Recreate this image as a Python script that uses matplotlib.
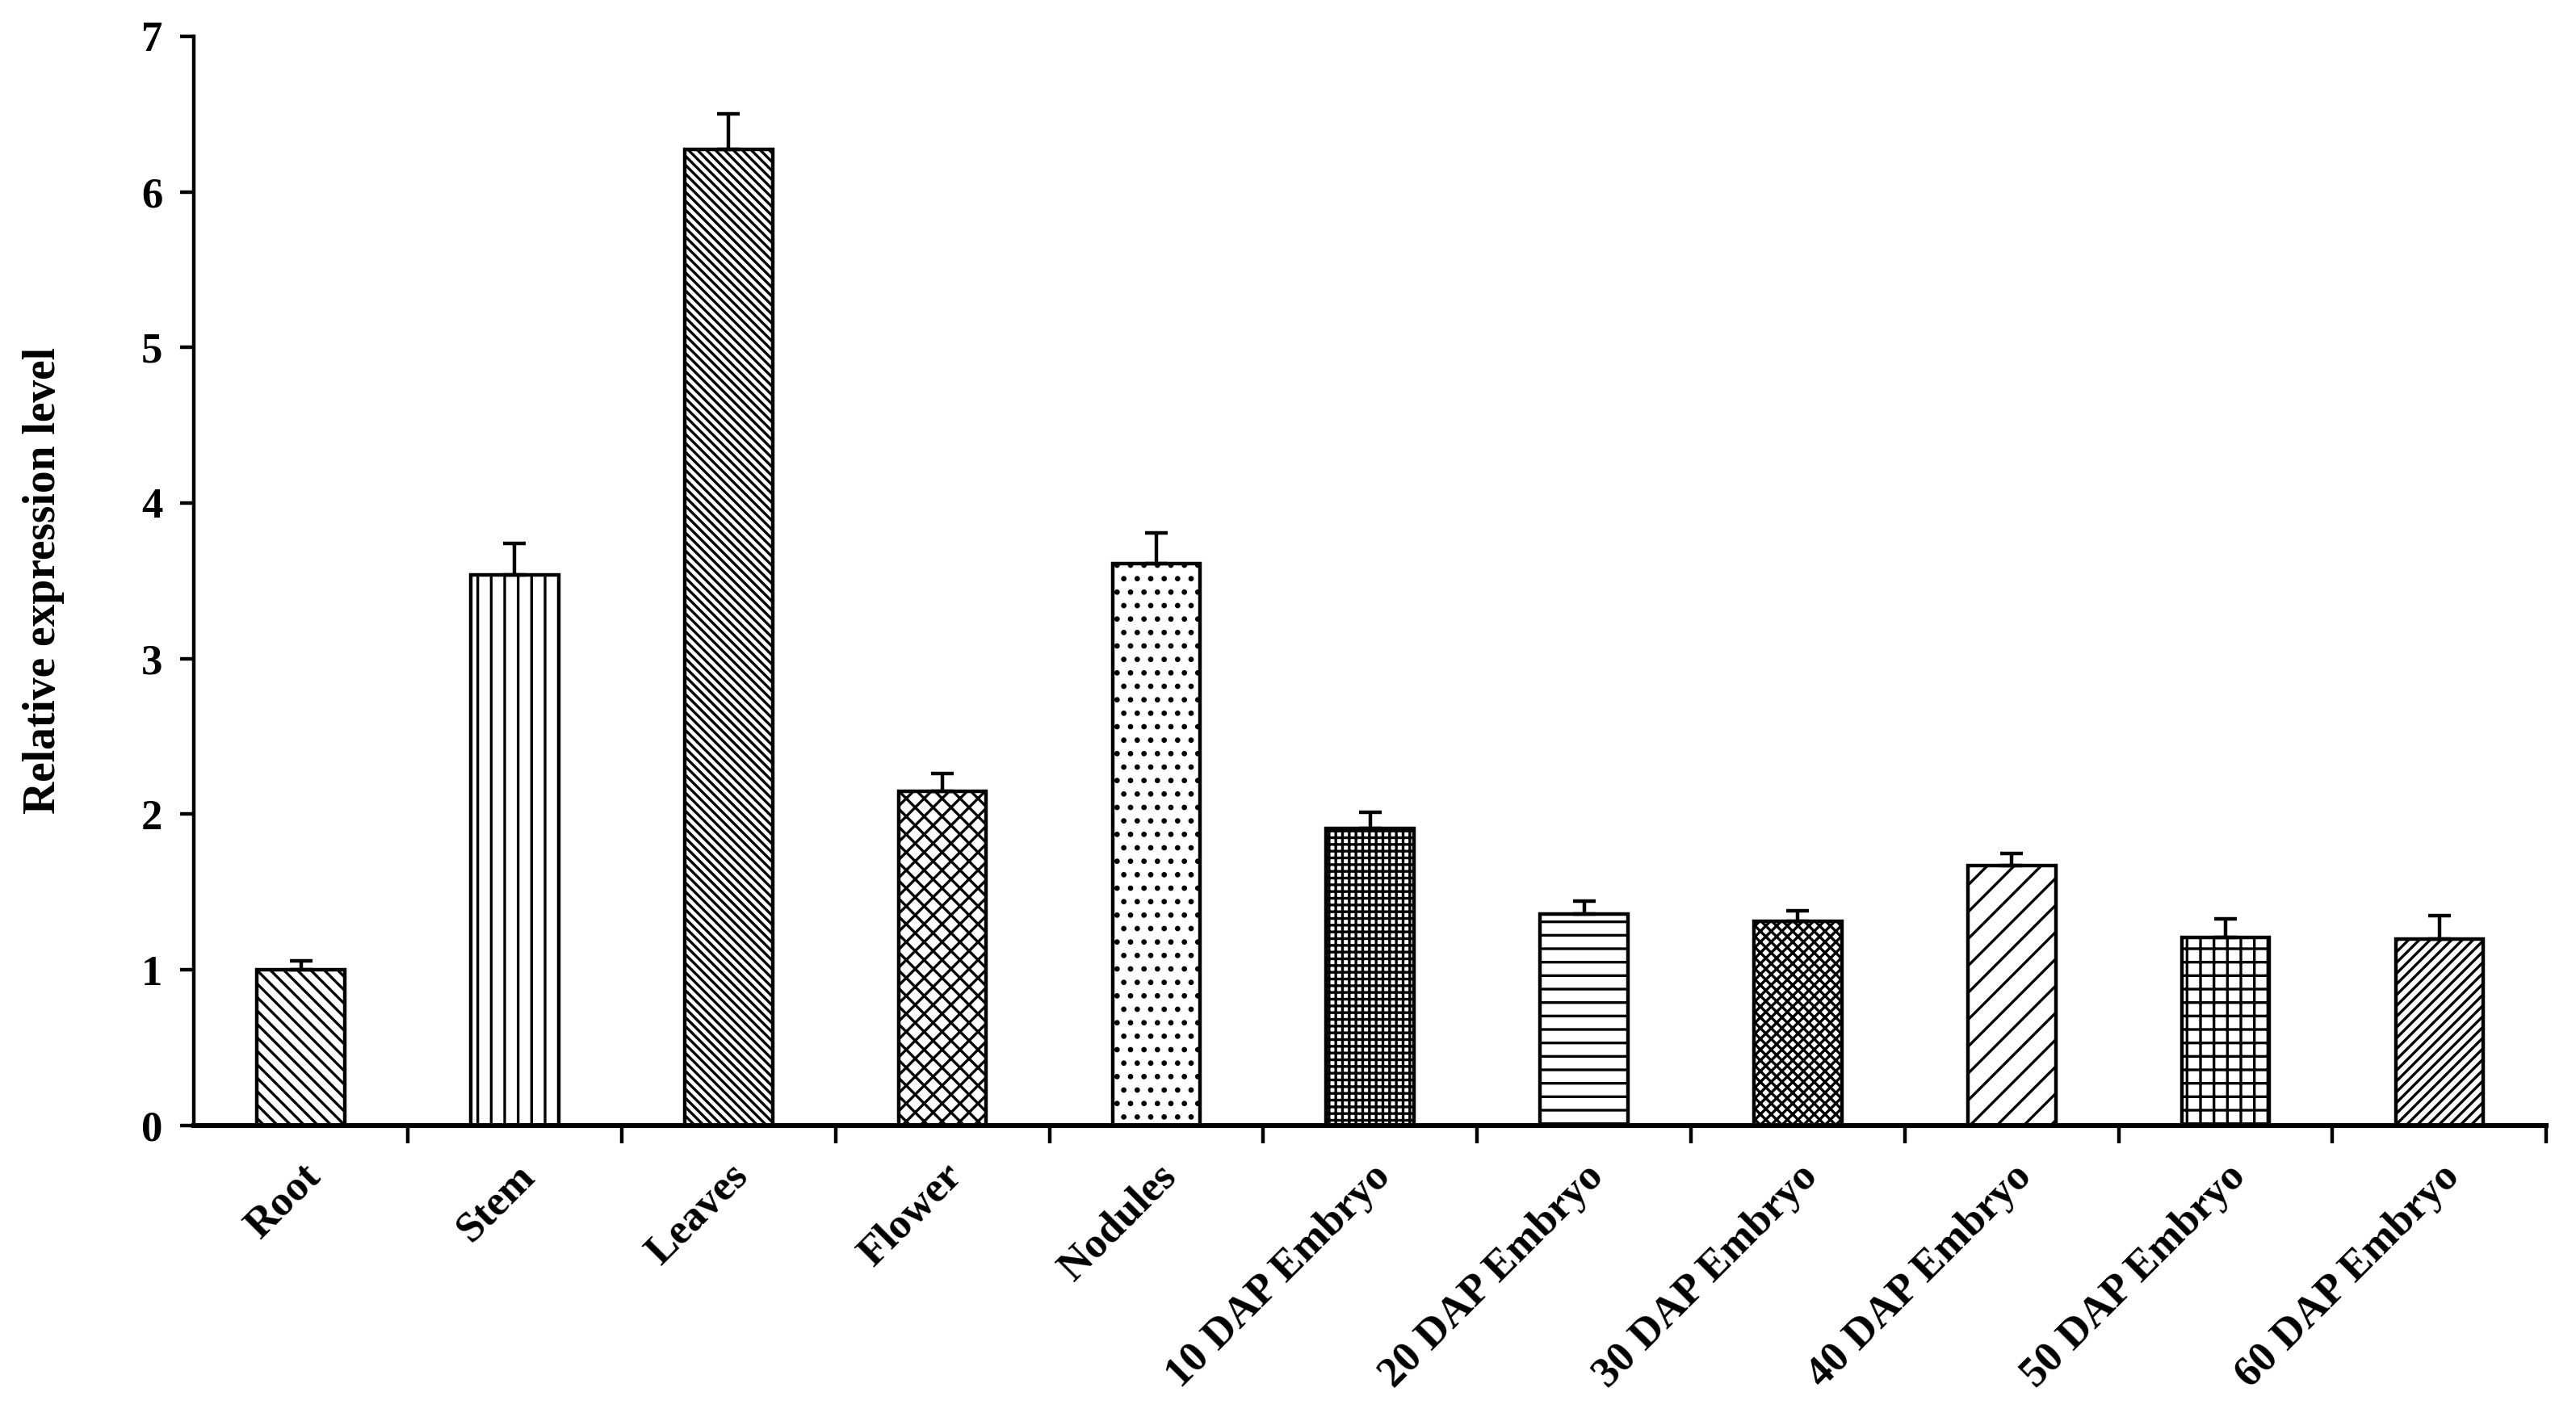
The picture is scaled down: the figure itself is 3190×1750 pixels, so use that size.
import numpy as np
import matplotlib.pyplot as plt

# values
tissues = ["Root", "Stem", "Leaves", "Flower", "Nodules",
           "10 DAP Embryo", "20 DAP Embryo", "30 DAP Embryo",
           "40 DAP Embryo", "50 DAP Embryo", "60 DAP Embryo"]
expression = [1.00, 3.54, 6.27, 2.15, 3.61, 1.91, 1.36, 1.31, 1.67, 1.21, 1.20]
errors = [0.06, 0.20, 0.23, 0.11, 0.20, 0.10, 0.08, 0.07, 0.08, 0.12, 0.15]
hatches = ["\\\\\\\\", "||", "\\\\\\\\\\\\", "xxx", "..", "++++",
           "--", "xxxxx", "//", "++", "/////"]

plt.rcParams['font.family'] = ['Liberation Serif', 'DejaVu Serif']
plt.rcParams['font.weight'] = 'bold'
plt.rcParams['hatch.linewidth'] = 1.2

fig = plt.figure(figsize=(15.95, 8.75), dpi=200)
ax = fig.add_axes([0.0753, 0.2035, 0.9132, 0.7709])

x = np.arange(len(tissues))
bars = ax.bar(x, expression, width=0.41, color="white", edgecolor="black",
              linewidth=1.6, zorder=2)
for b, h in zip(bars, hatches):
    b.set_hatch(h)

ax.errorbar(x, expression, yerr=[np.zeros(len(errors)), errors], fmt="none",
            ecolor="black", elinewidth=1.6, capsize=5, capthick=1.6, zorder=3)

ax.set_xlim(-0.5, len(tissues) - 0.5)
ax.set_ylim(0, 7)
ax.set_yticks(range(8))
ax.tick_params(axis='y', labelsize=19, length=6, width=1.6, direction='out',
               pad=8)

# boundary ticks without labels, labels at bar centres
ax.set_xticks(np.arange(0.5, len(tissues), 1.0))
ax.set_xticklabels([])
ax.tick_params(axis='x', which='major', length=8, width=1.6, direction='out')
ax.set_xticks(x, minor=True)
ax.set_xticklabels(tissues, minor=True, rotation=45, ha='right',
                   rotation_mode='anchor', fontsize=19, fontweight='bold')
ax.tick_params(axis='x', which='minor', length=0, pad=14)

for lab in ax.get_yticklabels():
    lab.set_fontweight('bold')

ax.set_ylabel("Relative expression level", fontsize=20, fontweight='bold',
              labelpad=34)
ax.spines['top'].set_visible(False)
ax.spines['right'].set_visible(False)
ax.spines['left'].set_linewidth(1.6)
ax.spines['bottom'].set_linewidth(2.2)

plt.savefig("out.png", dpi=200)
